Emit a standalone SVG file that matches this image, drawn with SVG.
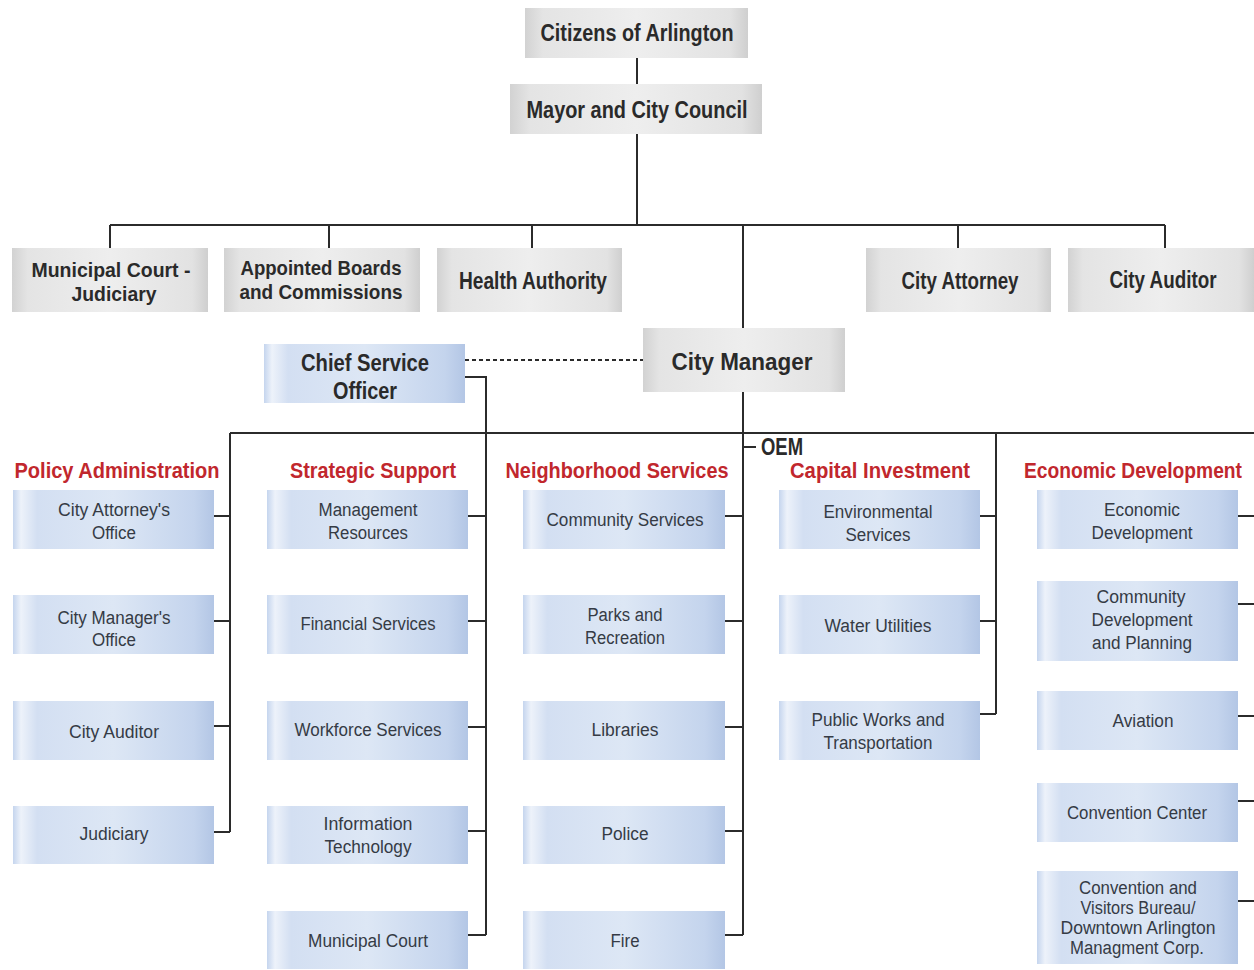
<svg xmlns="http://www.w3.org/2000/svg" width="1254" height="970" viewBox="0 0 1254 970">
<style>
.ln{stroke:#2b2b2b;stroke-width:2;fill:none}
.gb{fill:url(#gg)}
.bb{fill:url(#bg)}
.tt{font-family:"Liberation Sans",Arial,sans-serif;font-weight:bold;font-size:24px;fill:#2a2a2a;text-anchor:middle}
.t2{font-size:21px}
.bt{font-family:"Liberation Sans",Arial,sans-serif;font-size:18px;fill:#353b45;text-anchor:middle}
.hd{font-family:"Liberation Sans",Arial,sans-serif;font-weight:bold;font-size:22px;fill:#c1272d;text-anchor:middle}
</style>
<defs>
<linearGradient id="gg" x1="0" y1="0" x2="1" y2="0">
<stop offset="0" stop-color="#d2d2d2"/>
<stop offset="0.08" stop-color="#e4e4e4"/>
<stop offset="0.5" stop-color="#eeeeee"/>
<stop offset="0.92" stop-color="#e2e2e2"/>
<stop offset="1" stop-color="#cfcfcf"/>
</linearGradient>
<linearGradient id="bg" x1="0" y1="0" x2="1" y2="0">
<stop offset="0" stop-color="#c5d5ee"/>
<stop offset="0.04" stop-color="#edf2fa"/>
<stop offset="0.12" stop-color="#d3dff2"/>
<stop offset="0.5" stop-color="#dde7f5"/>
<stop offset="0.9" stop-color="#c4d4ed"/>
<stop offset="1" stop-color="#b3c6e5"/>
</linearGradient>
</defs>

<g id="connectors">
<path class="ln" d="M637 58V84M637 134V225M110 225H1165M110 225V248M329 225V248M532 225V248M958 225V248M1165 225V248M743 225V328"/>
<path class="ln" d="M465 360H643" stroke-dasharray="4 3" stroke-width="1.6"/>
<path class="ln" d="M465 377H486V935M743 392V935M230 433H1254M230 433V832M996 433V714"/>
<path class="ln" d="M743 447H756"/>
<path class="ln" d="M214 516H230M214 621H230M214 726H230M214 832H230"/>
<path class="ln" d="M468 516H486M468 621H486M468 727H486M468 831H486M468 935H486"/>
<path class="ln" d="M725 516H743M725 621H743M725 727H743M725 831H743M725 935H743"/>
<path class="ln" d="M980 516H996M980 621H996M980 714H996"/>
<path class="ln" d="M1238 516H1254M1238 604H1254M1238 716H1254M1238 801H1254M1238 901H1254"/>
</g>

<g id="citizens"><rect class="gb" x="525" y="8" width="223" height="50"/><text class="tt" x="637" y="41" textLength="193" lengthAdjust="spacingAndGlyphs">Citizens of Arlington</text></g>
<g id="mayor"><rect class="gb" x="510" y="84" width="252" height="50"/><text class="tt" x="637" y="118" textLength="221" lengthAdjust="spacingAndGlyphs">Mayor and City Council</text></g>

<g id="municipal-court"><rect class="gb" x="12" y="248" width="196" height="64"/><text class="tt t2" x="111" y="277" textLength="159" lengthAdjust="spacingAndGlyphs">Municipal Court -</text><text class="tt t2" x="114" y="301" textLength="85" lengthAdjust="spacingAndGlyphs">Judiciary</text></g>
<g id="appointed-boards"><rect class="gb" x="224" y="248" width="196" height="64"/><text class="tt t2" x="321" y="275" textLength="161" lengthAdjust="spacingAndGlyphs">Appointed Boards</text><text class="tt t2" x="321" y="299" textLength="163" lengthAdjust="spacingAndGlyphs">and Commissions</text></g>
<g id="health-authority"><rect class="gb" x="437" y="248" width="185" height="64"/><text class="tt" x="533" y="289" textLength="148" lengthAdjust="spacingAndGlyphs">Health Authority</text></g>
<g id="city-attorney"><rect class="gb" x="866" y="248" width="185" height="64"/><text class="tt" x="960" y="289" textLength="117" lengthAdjust="spacingAndGlyphs">City Attorney</text></g>
<g id="city-auditor"><rect class="gb" x="1068" y="248" width="186" height="64"/><text class="tt" x="1163" y="288" textLength="107" lengthAdjust="spacingAndGlyphs">City Auditor</text></g>

<g id="city-manager"><rect class="gb" x="643" y="328" width="202" height="64"/><text class="tt" x="742" y="370" font-size="27" textLength="141" lengthAdjust="spacingAndGlyphs">City Manager</text></g>
<g id="chief-service-officer"><rect class="bb" x="264" y="344" width="201" height="59"/><text class="tt" x="365" y="371" font-size="24" textLength="128" lengthAdjust="spacingAndGlyphs">Chief Service</text><text class="tt" x="365" y="399" font-size="24" textLength="64" lengthAdjust="spacingAndGlyphs">Officer</text></g>

<g id="oem"><text class="tt" x="782" y="455" font-size="21" textLength="42" lengthAdjust="spacingAndGlyphs">OEM</text></g>

<g id="headers">
<text class="hd" x="117" y="478" textLength="205" lengthAdjust="spacingAndGlyphs">Policy Administration</text>
<text class="hd" x="373" y="478" textLength="166" lengthAdjust="spacingAndGlyphs">Strategic Support</text>
<text class="hd" x="617" y="478" textLength="223" lengthAdjust="spacingAndGlyphs">Neighborhood Services</text>
<text class="hd" x="880" y="478" textLength="180" lengthAdjust="spacingAndGlyphs">Capital Investment</text>
<text class="hd" x="1133" y="478" font-size="20" textLength="218" lengthAdjust="spacingAndGlyphs">Economic Development</text>
</g>

<g id="city-attorneys-office"><rect class="bb" x="13" y="490" width="201" height="59"/><text class="bt" x="114" y="516" textLength="112" lengthAdjust="spacingAndGlyphs">City Attorney's</text><text class="bt" x="114" y="539" textLength="44" lengthAdjust="spacingAndGlyphs">Office</text></g>
<g id="city-managers-office"><rect class="bb" x="13" y="595" width="201" height="59"/><text class="bt" x="114" y="624" textLength="113" lengthAdjust="spacingAndGlyphs">City Manager's</text><text class="bt" x="114" y="646" textLength="44" lengthAdjust="spacingAndGlyphs">Office</text></g>
<g id="city-auditor-office"><rect class="bb" x="13" y="701" width="201" height="59"/><text class="bt" x="114" y="738" textLength="90" lengthAdjust="spacingAndGlyphs">City Auditor</text></g>
<g id="judiciary"><rect class="bb" x="13" y="806" width="201" height="58"/><text class="bt" x="114" y="840" textLength="69" lengthAdjust="spacingAndGlyphs">Judiciary</text></g>

<g id="management-resources"><rect class="bb" x="267" y="490" width="201" height="59"/><text class="bt" x="368" y="516" textLength="99" lengthAdjust="spacingAndGlyphs">Management</text><text class="bt" x="368" y="539" textLength="80" lengthAdjust="spacingAndGlyphs">Resources</text></g>
<g id="financial-services"><rect class="bb" x="267" y="595" width="201" height="59"/><text class="bt" x="368" y="630" textLength="135" lengthAdjust="spacingAndGlyphs">Financial Services</text></g>
<g id="workforce-services"><rect class="bb" x="267" y="701" width="201" height="59"/><text class="bt" x="368" y="736" textLength="147" lengthAdjust="spacingAndGlyphs">Workforce Services</text></g>
<g id="information-technology"><rect class="bb" x="267" y="806" width="201" height="58"/><text class="bt" x="368" y="830" textLength="89" lengthAdjust="spacingAndGlyphs">Information</text><text class="bt" x="368" y="853" textLength="87" lengthAdjust="spacingAndGlyphs">Technology</text></g>
<g id="municipal-court-dept"><rect class="bb" x="267" y="911" width="201" height="58"/><text class="bt" x="368" y="947" textLength="120" lengthAdjust="spacingAndGlyphs">Municipal Court</text></g>

<g id="community-services"><rect class="bb" x="523" y="490" width="202" height="59"/><text class="bt" x="625" y="526" textLength="157" lengthAdjust="spacingAndGlyphs">Community Services</text></g>
<g id="parks-and-recreation"><rect class="bb" x="523" y="595" width="202" height="59"/><text class="bt" x="625" y="621" textLength="75" lengthAdjust="spacingAndGlyphs">Parks and</text><text class="bt" x="625" y="644" textLength="80" lengthAdjust="spacingAndGlyphs">Recreation</text></g>
<g id="libraries"><rect class="bb" x="523" y="701" width="202" height="59"/><text class="bt" x="625" y="736" textLength="67" lengthAdjust="spacingAndGlyphs">Libraries</text></g>
<g id="police"><rect class="bb" x="523" y="806" width="202" height="58"/><text class="bt" x="625" y="840" textLength="47" lengthAdjust="spacingAndGlyphs">Police</text></g>
<g id="fire"><rect class="bb" x="523" y="911" width="202" height="58"/><text class="bt" x="625" y="947" textLength="29" lengthAdjust="spacingAndGlyphs">Fire</text></g>

<g id="environmental-services"><rect class="bb" x="779" y="490" width="201" height="59"/><text class="bt" x="878" y="518" textLength="109" lengthAdjust="spacingAndGlyphs">Environmental</text><text class="bt" x="878" y="541" textLength="65" lengthAdjust="spacingAndGlyphs">Services</text></g>
<g id="water-utilities"><rect class="bb" x="779" y="595" width="201" height="59"/><text class="bt" x="878" y="632" textLength="107" lengthAdjust="spacingAndGlyphs">Water Utilities</text></g>
<g id="public-works"><rect class="bb" x="779" y="701" width="201" height="59"/><text class="bt" x="878" y="726" textLength="133" lengthAdjust="spacingAndGlyphs">Public Works and</text><text class="bt" x="878" y="749" textLength="109" lengthAdjust="spacingAndGlyphs">Transportation</text></g>

<g id="economic-development"><rect class="bb" x="1037" y="490" width="201" height="59"/><text class="bt" x="1142" y="516" textLength="76" lengthAdjust="spacingAndGlyphs">Economic</text><text class="bt" x="1142" y="539" textLength="101" lengthAdjust="spacingAndGlyphs">Development</text></g>
<g id="community-development"><rect class="bb" x="1037" y="581" width="201" height="80"/><text class="bt" x="1141" y="603" textLength="89" lengthAdjust="spacingAndGlyphs">Community</text><text class="bt" x="1142" y="626" textLength="101" lengthAdjust="spacingAndGlyphs">Development</text><text class="bt" x="1142" y="649" textLength="100" lengthAdjust="spacingAndGlyphs">and Planning</text></g>
<g id="aviation"><rect class="bb" x="1037" y="691" width="201" height="59"/><text class="bt" x="1143" y="727" textLength="61" lengthAdjust="spacingAndGlyphs">Aviation</text></g>
<g id="convention-center"><rect class="bb" x="1037" y="783" width="201" height="59"/><text class="bt" x="1137" y="819" textLength="140" lengthAdjust="spacingAndGlyphs">Convention Center</text></g>
<g id="convention-visitors"><rect class="bb" x="1037" y="871" width="201" height="93"/><text class="bt" x="1138" y="894" textLength="118" lengthAdjust="spacingAndGlyphs">Convention and</text><text class="bt" x="1138" y="914" textLength="115" lengthAdjust="spacingAndGlyphs">Visitors Bureau/</text><text class="bt" x="1138" y="934" textLength="155" lengthAdjust="spacingAndGlyphs">Downtown Arlington</text><text class="bt" x="1137" y="954" textLength="134" lengthAdjust="spacingAndGlyphs">Managment Corp.</text></g>
</svg>
